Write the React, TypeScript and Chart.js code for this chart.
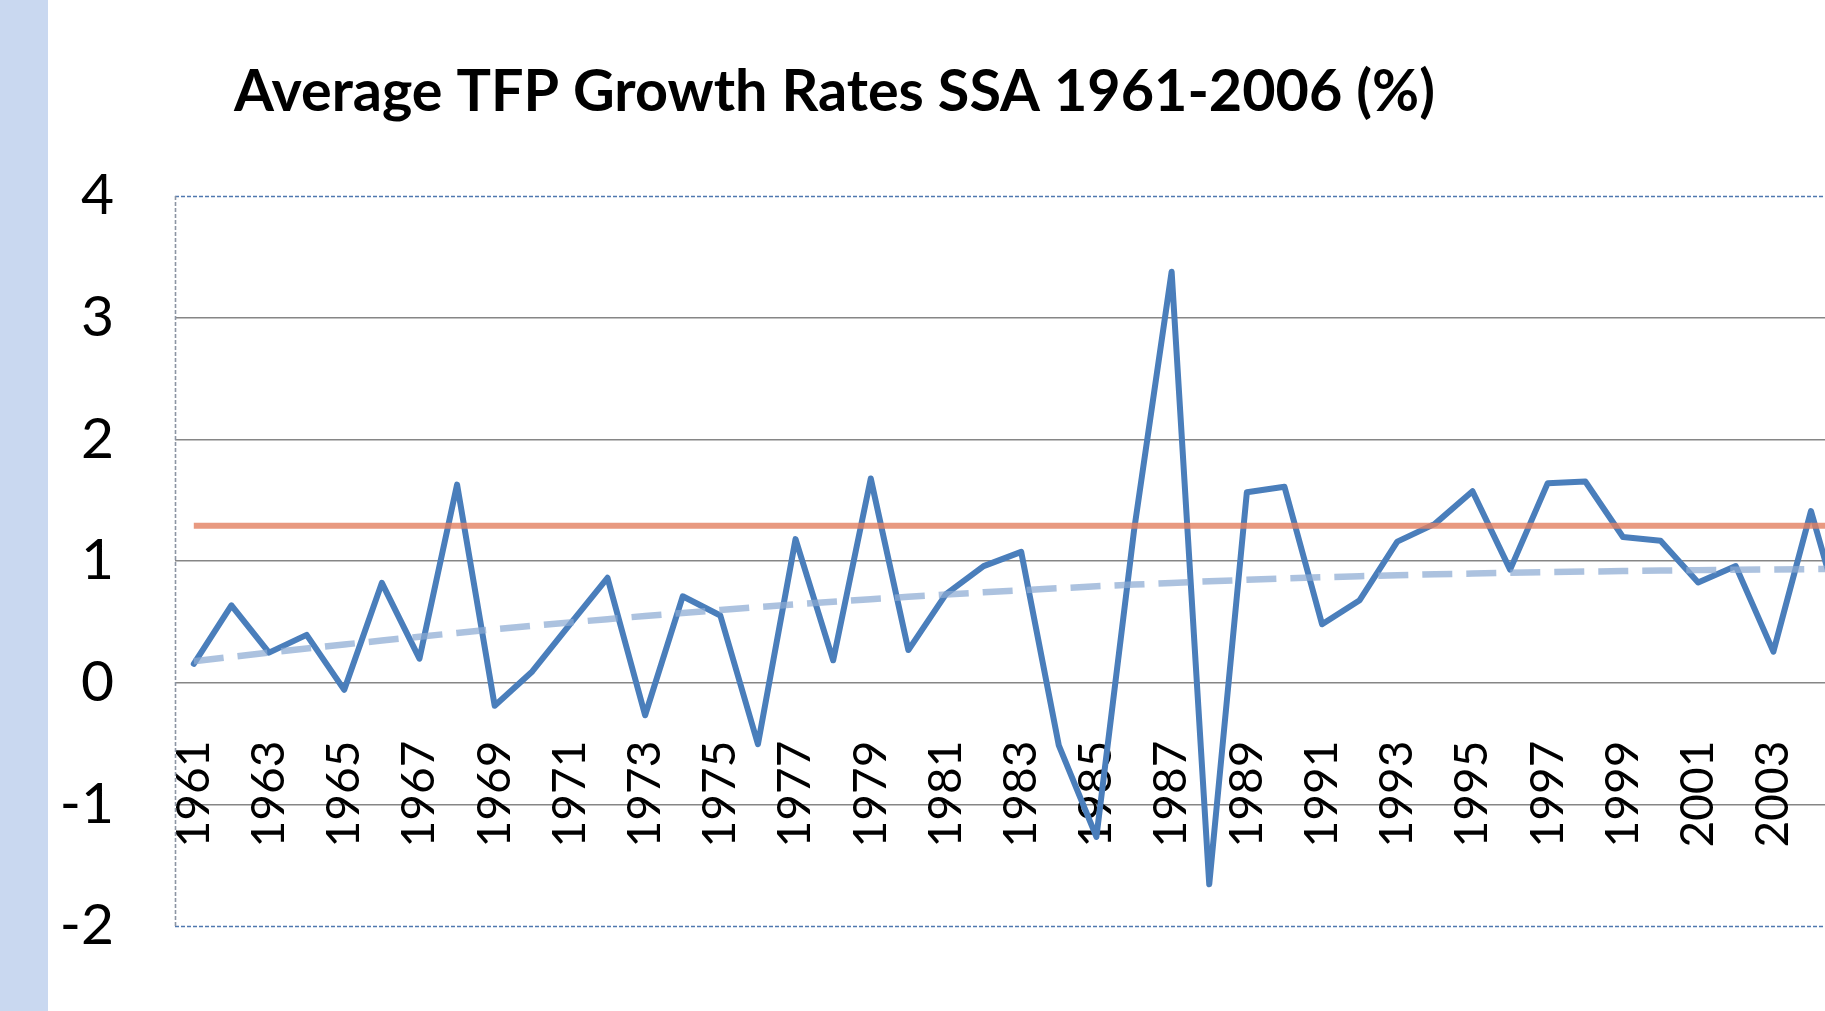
import { useEffect, useRef } from 'react';
import { Chart, registerables } from 'chart.js';

Chart.register(...registerables);

const TITLE = 'Average TFP Growth Rates SSA 1961-2006 (%)';

const YEARS = [
  '1961', '1962', '1963', '1964', '1965', '1966', '1967', '1968', '1969', '1970',
  '1971', '1972', '1973', '1974', '1975', '1976', '1977', '1978', '1979', '1980',
  '1981', '1982', '1983', '1984', '1985', '1986', '1987', '1988', '1989', '1990',
  '1991', '1992', '1993', '1994', '1995', '1996', '1997', '1998', '1999', '2000',
  '2001', '2002', '2003', '2004', '2005', '2006',
];

const TFP_GROWTH = [
  0.155, 0.636, 0.247, 0.393, -0.059, 0.82, 0.197, 1.628, -0.19, 0.092,
  0.48, 0.862, -0.268, 0.71, 0.552, -0.506, 1.18, 0.184, 1.678, 0.268,
  0.728, 0.958, 1.075, -0.515, -1.268, 1.25, 3.377, -1.657, 1.565, 1.61,
  0.48, 0.678, 1.159, 1.305, 1.573, 0.929, 1.64, 1.653, 1.197, 1.167,
  0.824, 0.958, 0.255, 1.41, 0.33, 0.9,
];

const MEAN_GROWTH = 1.29;

const TREND = [
  0.176, 0.212, 0.247, 0.281, 0.314, 0.346, 0.378, 0.409, 0.439, 0.467,
  0.495, 0.522, 0.548, 0.573, 0.597, 0.621, 0.643, 0.665, 0.686, 0.706,
  0.725, 0.743, 0.76, 0.776, 0.792, 0.806, 0.82, 0.833, 0.845, 0.856,
  0.866, 0.875, 0.883, 0.891, 0.897, 0.903, 0.908, 0.913, 0.917, 0.921,
  0.925, 0.928, 0.931, 0.933, 0.935, 0.936,
];

const Y_MIN = -2;
const Y_MAX = 4;
const Y_STEP = 1;

const FONT = 'Lato, "Open Sans", sans-serif';

const framePlugin = {
  id: 'plotFrame',
  beforeDatasetsDraw(chart: any) {
    const { ctx, chartArea } = chart;
    const { left, right, top, bottom } = chartArea;
    ctx.save();
    ctx.lineWidth = 1.6;
    ctx.setLineDash([4, 2]);
    ctx.strokeStyle = '#4f78b0';
    ctx.beginPath();
    ctx.moveTo(left, top + 0.5);
    ctx.lineTo(right, top + 0.5);
    ctx.moveTo(left, bottom + 0.5);
    ctx.lineTo(right, bottom + 0.5);
    ctx.stroke();
    ctx.strokeStyle = '#8c95a3';
    ctx.beginPath();
    ctx.moveTo(left + 0.5, top);
    ctx.lineTo(left + 0.5, bottom);
    ctx.stroke();
    ctx.restore();
  },
};

const titlePlugin = {
  id: 'slideTitle',
  afterDraw(chart: any) {
    const { ctx } = chart;
    ctx.save();
    ctx.font = `bold 57.5px ${FONT}`;
    ctx.fillStyle = '#000000';
    ctx.textAlign = 'left';
    ctx.textBaseline = 'alphabetic';
    ctx.fillText(TITLE, 234, 111);
    ctx.restore();
  },
};

export default function App() {
  const canvasRef = useRef<HTMLCanvasElement | null>(null);

  useEffect(() => {
    const canvas = canvasRef.current;
    if (!canvas) return;
    const chart = new Chart(canvas, {
      type: 'line',
      data: {
        labels: YEARS,
        datasets: [
          {
            label: 'Trend',
            data: TREND,
            borderColor: 'rgba(140,170,210,0.72)',
            borderWidth: 6.5,
            borderDash: [30, 14],
            pointRadius: 0,
            tension: 0,
            order: 0,
          },
          {
            label: 'Mean',
            data: YEARS.map(() => MEAN_GROWTH),
            borderColor: 'rgba(226,127,96,0.8)',
            borderWidth: 6,
            pointRadius: 0,
            tension: 0,
            order: 1,
          },
          {
            label: 'TFP growth',
            data: TFP_GROWTH,
            borderColor: '#4a7ebb',
            borderWidth: 6,
            borderJoinStyle: 'round',
            borderCapStyle: 'round',
            pointRadius: 0,
            tension: 0,
            order: 2,
          },
        ],
      },
      options: {
        responsive: false,
        devicePixelRatio: 1,
        animation: false,
        layout: { padding: { top: 196, bottom: 85, left: 0, right: 15 } },
        plugins: {
          legend: { display: false },
          tooltip: { enabled: false },
          title: { display: false },
        },
        scales: {
          x: {
            type: 'category',
            position: { y: 0 },
            offset: true,
            grid: { display: false },
            border: { display: false },
            afterFit: (scale: any) => {
              scale.height = 0;
              scale.paddingLeft = 0;
              scale.paddingRight = 0;
            },
            ticks: {
              autoSkip: false,
              minRotation: 90,
              maxRotation: 90,
              padding: 50,
              color: '#000000',
              font: { family: FONT, size: 46 },
              callback: (_v: any, i: number) => (i % 2 === 0 ? YEARS[i] : ''),
            },
          },
          y: {
            min: Y_MIN,
            max: Y_MAX,
            afterFit: (scale: any) => {
              scale.width = 175;
              scale.paddingTop = 0;
              scale.paddingBottom = 0;
            },
            grid: {
              drawTicks: false,
              lineWidth: 1.5,
              color: (ctx: any) =>
                ctx.tick && (ctx.tick.value === Y_MAX || ctx.tick.value === Y_MIN)
                  ? 'rgba(0,0,0,0)'
                  : '#868686',
            },
            border: { display: false },
            ticks: {
              stepSize: Y_STEP,
              padding: 61,
              color: '#000000',
              font: { family: FONT, size: 57 },
            },
          },
        },
      },
      plugins: [framePlugin, titlePlugin],
    });
    return () => chart.destroy();
  }, []);

  return (
    <div
      style={{
        position: 'fixed',
        left: 0,
        top: 0,
        width: 1825,
        height: 1011,
        overflow: 'hidden',
        background: '#ffffff',
      }}
    >
      <div
        style={{
          position: 'absolute',
          left: 0,
          top: 0,
          width: 48,
          height: 1011,
          background: '#c9d8f0',
        }}
      />
      <canvas
        ref={canvasRef}
        width={1920}
        height={1011}
        style={{ position: 'absolute', left: 0, top: 0 }}
      />
    </div>
  );
}
